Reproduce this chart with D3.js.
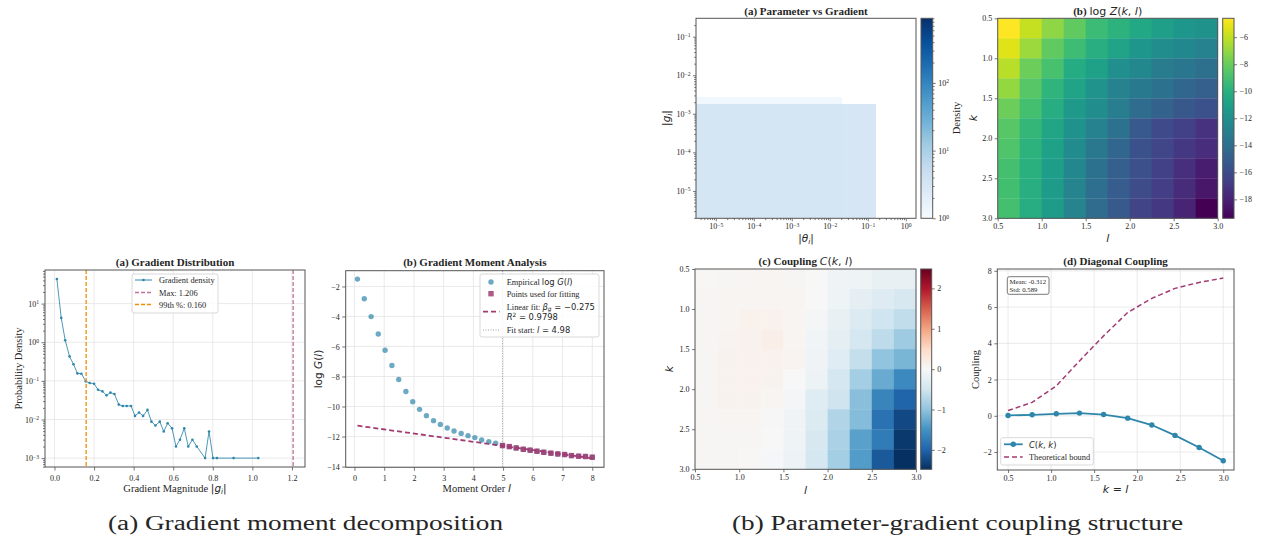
<!DOCTYPE html>
<html>
<head>
<meta charset="utf-8">
<script src="https://cdn.jsdelivr.net/npm/d3@7/dist/d3.min.js"></script>
<style>
body { margin: 0; background: #fff; }
svg { display: block; }
</style>
</head>
<body>
<svg width="1262" height="544"></svg>
<script>
// ---- (a) gradient distribution ----
var gradMag = [0.012, 0.034, 0.054, 0.076, 0.096, 0.116, 0.136, 0.158, 0.178, 0.2, 0.22, 0.242, 0.263, 0.283,
    0.303, 0.325, 0.345, 0.365, 0.387, 0.407, 0.427, 0.448, 0.47, 0.49, 0.51, 0.532, 0.552, 0.572, 0.594,
    0.614, 0.634, 0.656, 0.676, 0.697, 0.719, 0.761, 0.781, 0.801, 0.821, 0.905, 1.03];
var gradDensity = [43.4, 4.27, 1.13, 0.43, 0.27, 0.156, 0.153, 0.097, 0.088, 0.0845, 0.059, 0.0535, 0.0422,
    0.0495, 0.0457, 0.0243, 0.0224, 0.0224, 0.0224, 0.0124, 0.0151, 0.0124, 0.0177, 0.0088, 0.007, 0.0088,
    0.0049, 0.008, 0.0059, 0.002, 0.003, 0.0059, 0.002, 0.003, 0.002, 0.001, 0.0049, 0.001, 0.001, 0.001, 0.001];
var gradMax = 1.206;
var grad99 = 0.160;

// ---- (b) gradient moments ----
var momentOrder = [0.10, 0.33, 0.56, 0.80, 1.03, 1.26, 1.49, 1.73, 1.96, 2.19, 2.42, 2.66, 2.89, 3.12, 3.35,
    3.59, 3.82, 4.05, 4.28, 4.52, 4.75, 4.98, 5.21, 5.44, 5.68, 5.91, 6.14, 6.37, 6.61, 6.84, 7.07, 7.30,
    7.54, 7.77, 8.00];
var logMoment = [-1.51, -2.82, -4.01, -5.17, -6.25, -7.27, -8.20, -9.00, -9.68, -10.19, -10.61, -10.94,
    -11.19, -11.43, -11.63, -11.79, -11.94, -12.07, -12.23, -12.34, -12.45, -12.60, -12.67, -12.76, -12.85,
    -12.91, -12.98, -13.05, -13.11, -13.16, -13.20, -13.27, -13.31, -13.33, -13.38];
var fitStart = 4.98;
var fitSlope = -0.275;
var fitIntercept = -11.25;
var fitR2 = 0.9798;

// ---- parameter vs gradient (2d histogram, log10 bin edges) ----
var thetaEdges = [-5.52, -1.68, -0.79];
var gEdges = [-5.71, -2.745, -2.57];
var pgDensity = [[3.3, 3.1], [1.25, 0]];   // rows: g bins low->high, cols: theta bins

// ---- log Z(k,l), coupling C(k,l) ----
var kVals = [0.5, 0.78, 1.06, 1.33, 1.61, 1.89, 2.17, 2.44, 2.72, 3.0];
var logZ = [
    [-4.6, -5.9, -7.1, -8.2, -9.3, -9.9, -10.5, -11.1, -11.6, -11.9],
    [-5.3, -6.8, -8.2, -9.2, -10.1, -10.8, -11.6, -12.2, -12.5, -12.9],
    [-6.2, -7.9, -8.9, -10.3, -11.0, -12.1, -12.5, -13.3, -13.6, -14.0],
    [-7.0, -8.5, -9.8, -10.8, -11.8, -12.9, -13.4, -13.8, -14.5, -15.0],
    [-7.9, -9.0, -10.2, -11.4, -12.2, -13.2, -14.2, -14.8, -15.4, -15.7],
    [-8.5, -9.6, -10.7, -11.9, -12.9, -13.8, -15.3, -16.1, -16.6, -17.3],
    [-8.7, -9.9, -11.0, -12.3, -13.5, -14.5, -15.7, -16.3, -17.0, -17.5],
    [-9.0, -10.0, -11.2, -12.5, -13.9, -15.0, -15.8, -16.6, -17.4, -18.2],
    [-9.1, -10.1, -11.3, -12.7, -14.1, -15.1, -16.0, -16.7, -17.6, -18.5],
    [-9.0, -10.2, -11.3, -12.7, -14.2, -15.3, -16.4, -17.0, -17.9, -19.4]
];
var coupling = [
    [0.02, 0.04, 0.05, 0.05, 0.03, 0.0, -0.1, -0.12, -0.18, -0.2],
    [0.03, 0.055, 0.06, 0.06, 0.05, 0.0, -0.12, -0.25, -0.32, -0.4],
    [0.04, 0.06, 0.11, 0.1, 0.06, -0.05, -0.2, -0.35, -0.5, -0.62],
    [0.04, 0.07, 0.1, 0.15, 0.06, -0.08, -0.25, -0.45, -0.65, -0.9],
    [0.04, 0.09, 0.1, 0.1, 0.07, -0.1, -0.3, -0.6, -1.0, -1.15],
    [0.04, 0.09, 0.1, 0.08, 0.0, -0.13, -0.45, -0.85, -1.25, -1.6],
    [0.04, 0.08, 0.09, 0.06, -0.05, -0.3, -0.51, -1.05, -1.65, -2.0],
    [0.03, 0.05, 0.06, 0.01, -0.1, -0.35, -0.75, -1.08, -1.85, -2.25],
    [0.03, 0.04, 0.03, 0.0, -0.12, -0.4, -0.8, -1.35, -1.75, -2.4],
    [0.03, 0.03, 0.02, -0.02, -0.15, -0.45, -0.85, -1.4, -2.1, -2.48]
];
var bound = [0.29, 0.74, 1.65, 3.03, 4.41, 5.70, 6.48, 7.03, 7.36, 7.60];
var couplingMean = -0.312;
var couplingStd = 0.589;

var SERIF = '"Liberation Serif","Times New Roman",serif';
var MATH = '"DejaVu Sans",sans-serif';
var BLUE = "#2E86AB", MAG = "#A23B72", ORANGE = "#F18F01";
var INK = "#262626", SPINE = "#555";

var svg = d3.select("svg");
var defs = svg.append("defs");

function minus(v) { return v < 0 ? "\u2212" + Math.abs(v) : "" + v; }

// text made of serif / mathtext pieces
function rich(t, parts, fs) {
    var shift = 0;
    parts.forEach(function (p) {
        var kind = p[1] || "s";
        var s = t.append("tspan").text(p[0]);
        var target = 0;
        if (kind !== "s" && kind !== "b") s.attr("font-family", MATH).attr("font-weight", "normal");
        if (kind === "b") s.attr("font-weight", "bold");
        if (kind === "i" || kind === "sub") s.attr("font-style", "italic");
        if (kind === "sub") { s.attr("font-size", fs * 0.7); target = fs * 0.22; }
        if (kind === "sup") { s.attr("font-size", fs * 0.7); target = -fs * 0.4; }
        if (target !== shift) { s.attr("dy", target - shift); shift = target; }
    });
    return t;
}

function label(x, y, parts, fs, opts) {
    opts = opts || {};
    var t = svg.append("text")
        .attr("font-family", SERIF).attr("font-size", fs).attr("fill", INK)
        .attr("text-anchor", opts.anchor || "middle");
    if (opts.rotate) t.attr("transform", "translate(" + x + "," + y + ") rotate(-90)");
    else t.attr("x", x).attr("y", y);
    if (opts.bold) t.attr("font-weight", "bold");
    if (typeof parts === "string") parts = [[parts]];
    return rich(t, parts, fs);
}

function axis(orient, scale, pos, vals, fmt, size, pad) {
    var maker = orient === "bottom" ? d3.axisBottom : orient === "left" ? d3.axisLeft : d3.axisRight;
    var ax = maker(scale).tickValues(vals)
        .tickSize(size === undefined ? 3.5 : size)
        .tickPadding(pad === undefined ? 2.5 : pad)
        .tickFormat(fmt || function () { return ""; });
    var g = svg.append("g")
        .attr("transform", orient === "bottom" ? "translate(0," + pos + ")" : "translate(" + pos + ",0)")
        .call(ax);
    g.select(".domain").remove();
    g.selectAll(".tick line").attr("stroke", SPINE).attr("stroke-width", 0.8);
    g.selectAll(".tick text").attr("font-family", SERIF).attr("font-size", 8).attr("fill", INK);
    return g;
}

function powLabels(g) {
    g.selectAll(".tick text").each(function (d) {
        var e = Math.round(Math.log10(d));
        var t = d3.select(this).text(null);
        t.append("tspan").text("10");
        t.append("tspan").attr("dy", "-0.45em").attr("font-size", "5.6px").text(minus(e));
    });
}

function decades(sc) {
    var d = sc.domain(), out = [];
    for (var e = Math.ceil(Math.log10(d[0]) - 1e-9); e <= Math.floor(Math.log10(d[1]) + 1e-9); e++) {
        out.push(Math.pow(10, e));
    }
    return out;
}

function minors(sc) {
    var d = sc.domain(), out = [];
    for (var e = Math.floor(Math.log10(d[0])); e <= Math.ceil(Math.log10(d[1])); e++) {
        for (var m = 2; m <= 9; m++) {
            var v = m * Math.pow(10, e);
            if (v >= d[0] && v <= d[1]) out.push(v);
        }
    }
    return out;
}

function frame(b) {
    svg.append("rect").attr("x", b.l).attr("y", b.t)
        .attr("width", b.r - b.l).attr("height", b.b - b.t)
        .attr("fill", "none").attr("stroke", SPINE).attr("stroke-width", 1);
}

function grid(b, xs, ys, xv, yv) {
    var g = svg.append("g").attr("stroke", "#e4e4e4").attr("stroke-width", 0.8);
    xv.forEach(function (v) {
        g.append("line").attr("x1", xs(v)).attr("x2", xs(v)).attr("y1", b.t).attr("y2", b.b);
    });
    yv.forEach(function (v) {
        g.append("line").attr("y1", ys(v)).attr("y2", ys(v)).attr("x1", b.l).attr("x2", b.r);
    });
}

function ramp(cols) {
    return d3.scaleLinear()
        .domain(cols.map(function (c, i) { return i / (cols.length - 1); }))
        .range(cols).interpolate(d3.interpolateRgb).clamp(true);
}
var rdbu = ramp(["#053061", "#2166ac", "#4393c3", "#92c5de", "#d1e5f0", "#f7f7f7",
    "#fddbc7", "#f4a582", "#d6604d", "#b2182b", "#67001f"]);
var blues = ramp(["#f7fbff", "#deebf7", "#c6dbef", "#9ecae1", "#6baed6", "#4292c6",
    "#2171b5", "#08519c", "#08306b"]);
var viridis = d3.interpolateViridis;

function colorbar(x0, x1, y0, y1, interp, id) {
    var grad = defs.append("linearGradient").attr("id", id)
        .attr("x1", 0).attr("y1", 1).attr("x2", 0).attr("y2", 0);
    d3.range(0, 1.0001, 0.02).forEach(function (t) {
        grad.append("stop").attr("offset", t).attr("stop-color", interp(t));
    });
    svg.append("rect").attr("x", x0).attr("y", y0).attr("width", x1 - x0).attr("height", y1 - y0)
        .attr("fill", "url(#" + id + ")");
    frame({ l: x0, r: x1, t: y0, b: y1 });
}

function legendBox(x, y, w, h) {
    svg.append("rect").attr("x", x).attr("y", y).attr("width", w).attr("height", h).attr("rx", 2)
        .attr("fill", "#fff").attr("fill-opacity", 0.85).attr("stroke", "#cfcfcf").attr("stroke-width", 0.8);
}

// ================= (a) Gradient Distribution =================
var A = { l: 45, r: 305, t: 270, b: 467 };
var xA = d3.scaleLinear().domain([-0.048, 1.266]).range([A.l, A.r]);
var yA = d3.scaleLog().domain([Math.pow(10, -3.23), Math.pow(10, 1.87)]).range([A.b, A.t]);
var xTicksA = [0, 0.2, 0.4, 0.6, 0.8, 1.0, 1.2];
grid(A, xA, yA, xTicksA, decades(yA));

var gradPts = d3.zip(gradMag, gradDensity);
svg.append("path").datum(gradPts)
    .attr("d", d3.line().x(function (d) { return xA(d[0]); }).y(function (d) { return yA(d[1]); }))
    .attr("fill", "none").attr("stroke", BLUE).attr("stroke-width", 1).attr("opacity", 0.85);
svg.append("g").selectAll("circle").data(gradPts).join("circle")
    .attr("cx", function (d) { return xA(d[0]); })
    .attr("cy", function (d) { return yA(d[1]); })
    .attr("r", 1.3).attr("fill", BLUE);

svg.append("line").attr("x1", xA(gradMax)).attr("x2", xA(gradMax)).attr("y1", A.t).attr("y2", A.b)
    .attr("stroke", MAG).attr("stroke-width", 1.3).attr("stroke-dasharray", "4,2").attr("opacity", 0.7);
svg.append("line").attr("x1", xA(grad99)).attr("x2", xA(grad99)).attr("y1", A.t).attr("y2", A.b)
    .attr("stroke", ORANGE).attr("stroke-width", 1.3).attr("stroke-dasharray", "4,2");

frame(A);
axis("bottom", xA, A.b, xTicksA, d3.format(".1f"), 3.5, 4.5);
powLabels(axis("left", yA, A.l, decades(yA)));
axis("left", yA, A.l, minors(yA), null, 2);
label(175, 266, "(a) Gradient Distribution", 11, { bold: true });
label(175, 492, [["Gradient Magnitude "], ["|", "m"], ["g", "i"], ["i", "sub"], ["|", "m"]], 10.5);
label(22, 368.5, "Probability Density", 10.5, { rotate: true });

legendBox(132, 274, 86, 39);
svg.append("line").attr("x1", 135).attr("x2", 152).attr("y1", 280).attr("y2", 280)
    .attr("stroke", BLUE).attr("stroke-width", 1);
svg.append("circle").attr("cx", 143.5).attr("cy", 280).attr("r", 1.3).attr("fill", BLUE);
svg.append("line").attr("x1", 135).attr("x2", 152).attr("y1", 292.5).attr("y2", 292.5)
    .attr("stroke", MAG).attr("stroke-width", 1.3).attr("stroke-dasharray", "4,2").attr("opacity", 0.7);
svg.append("line").attr("x1", 135).attr("x2", 152).attr("y1", 304.5).attr("y2", 304.5)
    .attr("stroke", ORANGE).attr("stroke-width", 1.3).attr("stroke-dasharray", "4,2");
label(159, 283, "Gradient density", 8.4, { anchor: "start" });
label(159, 295.5, "Max: " + gradMax.toFixed(3), 8.4, { anchor: "start" });
label(159, 307.5, "99th %: " + grad99.toFixed(3), 8.4, { anchor: "start" });

// ================= (b) Gradient Moment Analysis =================
var B = { l: 345.7, r: 604, t: 270.7, b: 467.3 };
var xB = d3.scaleLinear().domain([-0.295, 8.395]).range([B.l, B.r]);
var yB = d3.scaleLinear().domain([-14.05, -0.95]).range([B.b, B.t]);
var xTicksB = d3.range(0, 9);
var yTicksB = [-14, -12, -10, -8, -6, -4, -2];
grid(B, xB, yB, xTicksB, yTicksB);

svg.append("line").attr("x1", xB(fitStart)).attr("x2", xB(fitStart)).attr("y1", B.t).attr("y2", B.b)
    .attr("stroke", "#888").attr("stroke-width", 0.8).attr("stroke-dasharray", "1,1.5");

var momPts = d3.zip(momentOrder, logMoment);
svg.append("g").selectAll("circle").data(momPts).join("circle")
    .attr("cx", function (d) { return xB(d[0]); })
    .attr("cy", function (d) { return yB(d[1]); })
    .attr("r", 2.7).attr("fill", BLUE).attr("opacity", 0.7);
svg.append("g").selectAll("rect").data(momPts.filter(function (d) { return d[0] >= fitStart; })).join("rect")
    .attr("x", function (d) { return xB(d[0]) - 2.7; })
    .attr("y", function (d) { return yB(d[1]) - 2.7; })
    .attr("width", 5.4).attr("height", 5.4).attr("fill", MAG).attr("opacity", 0.85);
var fitX = d3.extent(momentOrder);
svg.append("line")
    .attr("x1", xB(fitX[0])).attr("y1", yB(fitIntercept + fitSlope * fitX[0]))
    .attr("x2", xB(fitX[1])).attr("y2", yB(fitIntercept + fitSlope * fitX[1]))
    .attr("stroke", MAG).attr("stroke-width", 1.8).attr("stroke-dasharray", "5,3");

frame(B);
axis("bottom", xB, B.b, xTicksB, d3.format("d"), 3.5, 4.5);
axis("left", yB, B.l, yTicksB, minus);
label(474.8, 266, "(b) Gradient Moment Analysis", 11, { bold: true });
label(476.7, 492, [["Moment Order "], ["l", "i"]], 10.5);
label(322, 369, [["log ", "m"], ["G", "i"], ["(", "m"], ["l", "i"], [")", "m"]], 10.5, { rotate: true });

legendBox(480, 274, 119, 63);
svg.append("circle").attr("cx", 491).attr("cy", 282).attr("r", 2.7).attr("fill", BLUE).attr("opacity", 0.7);
svg.append("rect").attr("x", 488.3).attr("y", 291).attr("width", 5.4).attr("height", 5.4)
    .attr("fill", MAG).attr("opacity", 0.85);
svg.append("line").attr("x1", 483).attr("x2", 499.5).attr("y1", 311.7).attr("y2", 311.7)
    .attr("stroke", MAG).attr("stroke-width", 1.8).attr("stroke-dasharray", "5,3");
svg.append("line").attr("x1", 483).attr("x2", 499.5).attr("y1", 330).attr("y2", 330)
    .attr("stroke", "#888").attr("stroke-width", 0.8).attr("stroke-dasharray", "1,1.5");
label(506.7, 285, [["Empirical "], ["log ", "m"], ["G", "i"], ["(", "m"], ["l", "i"], [")", "m"]], 8.4, { anchor: "start" });
label(506.7, 296.5, "Points used for fitting", 8.4, { anchor: "start" });
label(506.7, 309.5, [["Linear fit: "], ["\u03b2", "i"], ["g", "sub"], [" = \u2212" + Math.abs(fitSlope).toFixed(3), "m"]], 8.4, { anchor: "start" });
label(506.7, 320, [["R", "i"], ["2", "sup"], [" = " + fitR2.toFixed(4), "m"]], 8.4, { anchor: "start" });
label(506.7, 333, [["Fit start: "], ["l", "i"], [" = " + fitStart.toFixed(2), "m"]], 8.4, { anchor: "start" });

// ================= (a) Parameter vs Gradient =================
var P = { l: 696, r: 916, t: 18.3, b: 218.3 };
var xP = d3.scaleLog().domain([Math.pow(10, -5.52), Math.pow(10, 0.27)]).range([P.l, P.r]);
var yP = d3.scaleLog().domain([Math.pow(10, -5.71), Math.pow(10, -0.523)]).range([P.b, P.t]);
var dens = d3.scaleLog().domain([1, 900]).range([0, 1]);
var pgCells = [];
pgDensity.forEach(function (row, i) {
    row.forEach(function (v, j) {
        if (v > 0) pgCells.push({ x0: thetaEdges[j], x1: thetaEdges[j + 1], y0: gEdges[i], y1: gEdges[i + 1], v: v });
    });
});
svg.append("g").selectAll("rect").data(pgCells).join("rect")
    .attr("x", function (d) { return xP(Math.pow(10, d.x0)); })
    .attr("width", function (d) { return xP(Math.pow(10, d.x1)) - xP(Math.pow(10, d.x0)); })
    .attr("y", function (d) { return yP(Math.pow(10, d.y1)); })
    .attr("height", function (d) { return yP(Math.pow(10, d.y0)) - yP(Math.pow(10, d.y1)); })
    .attr("fill", function (d) { return blues(dens(d.v)); })
    .attr("shape-rendering", "crispEdges");
frame(P);
powLabels(axis("bottom", xP, P.b, decades(xP), null, 3, 2.5));
axis("bottom", xP, P.b, minors(xP), null, 1.8);
powLabels(axis("left", yP, P.l, decades(yP), null, 3, 2.5));
axis("left", yP, P.l, minors(yP), null, 1.8);
label(806, 14.5, "(a) Parameter vs Gradient", 11, { bold: true });
label(670, 118, [["|", "m"], ["g", "i"], ["i", "sub"], ["|", "m"]], 10.5, { rotate: true });
label(806, 242, [["|", "m"], ["\u03b8", "i"], ["i", "sub"], ["|", "m"]], 10.5);

var cbP = { l: 921, r: 932.7, t: 18.3, b: 218.3 };
colorbar(cbP.l, cbP.r, cbP.t, cbP.b, blues, "cbBlues");
var yCbP = d3.scaleLog().domain(dens.domain()).range([cbP.b, cbP.t]);
powLabels(axis("right", yCbP, cbP.r, decades(yCbP), null, 3, 2.5));
axis("right", yCbP, cbP.r, minors(yCbP), null, 1.8);
label(960, 118, "Density", 10.5, { rotate: true });

// ================= (b) log Z(k,l) =================
var Z = { l: 997.7, r: 1217.7, t: 18.3, b: 218.3 };
var xZ = d3.scaleLinear().domain([0.5, 3]).range([Z.l, Z.r]);
var yZ = d3.scaleLinear().domain([0.5, 3]).range([Z.t, Z.b]);
var cellX = d3.scaleBand().domain(d3.range(kVals.length)).range([Z.l, Z.r]);
var cellY = d3.scaleBand().domain(d3.range(kVals.length)).range([Z.t, Z.b]);
var zExt = d3.extent(d3.merge(logZ));
var zNorm = d3.scaleLinear().domain(zExt).range([0, 1]);
var zCells = [];
logZ.forEach(function (row, i) { row.forEach(function (v, j) { zCells.push({ i: i, j: j, v: v }); }); });
svg.append("g").selectAll("rect").data(zCells).join("rect")
    .attr("x", function (d) { return cellX(d.j); }).attr("y", function (d) { return cellY(d.i); })
    .attr("width", cellX.bandwidth() + 0.3).attr("height", cellY.bandwidth() + 0.3)
    .attr("fill", function (d) { return viridis(zNorm(d.v)); });
frame(Z);
var hmTicks = [0.5, 1.0, 1.5, 2.0, 2.5, 3.0];
axis("bottom", xZ, Z.b, hmTicks, d3.format(".1f"), 3, 2);
axis("left", yZ, Z.l, hmTicks, d3.format(".1f"), 3, 2.5);
label(1107.7, 14.5, [["(b) ", "b"], ["log ", "m"], ["Z", "i"], ["(", "m"], ["k", "i"], [", ", "m"], ["l", "i"], [")", "m"]], 11, { bold: true });
label(977, 118, [["k", "i"]], 11, { rotate: true });
label(1107.7, 242, [["l", "i"]], 11);

var cbZ = { l: 1222.7, r: 1234, t: 18.3, b: 218.3 };
colorbar(cbZ.l, cbZ.r, cbZ.t, cbZ.b, viridis, "cbViridis");
var yCbZ = d3.scaleLinear().domain(zExt).range([cbZ.b, cbZ.t]);
axis("right", yCbZ, cbZ.r, [-18, -16, -14, -12, -10, -8, -6], minus, 3, 2.5);

// ================= (c) Coupling C(k,l) =================
var C = { l: 695, r: 916, t: 269, b: 469.3 };
var xC = d3.scaleLinear().domain([0.5, 3]).range([C.l, C.r]);
var yC = d3.scaleLinear().domain([0.5, 3]).range([C.t, C.b]);
var cX = d3.scaleBand().domain(d3.range(kVals.length)).range([C.l, C.r]);
var cY = d3.scaleBand().domain(d3.range(kVals.length)).range([C.t, C.b]);
var cMax = d3.max(d3.merge(coupling), function (v) { return Math.abs(v); });
var cNorm = d3.scaleLinear().domain([-cMax, cMax]).range([0, 1]);
var cCells = [];
coupling.forEach(function (row, i) { row.forEach(function (v, j) { cCells.push({ i: i, j: j, v: v }); }); });
svg.append("g").selectAll("rect").data(cCells).join("rect")
    .attr("x", function (d) { return cX(d.j); }).attr("y", function (d) { return cY(d.i); })
    .attr("width", cX.bandwidth() + 0.3).attr("height", cY.bandwidth() + 0.3)
    .attr("fill", function (d) { return rdbu(cNorm(d.v)); });
frame(C);
axis("bottom", xC, C.b, hmTicks, d3.format(".1f"), 3, 2);
axis("left", yC, C.l, hmTicks, d3.format(".1f"), 3, 2.5);
label(805.5, 265, [["(c) Coupling ", "b"], ["C", "i"], ["(", "m"], ["k", "i"], [", ", "m"], ["l", "i"], [")", "m"]], 11, { bold: true });
label(673, 369, [["k", "i"]], 11, { rotate: true });
label(805.5, 494, [["l", "i"]], 11);

var cbC = { l: 920.7, r: 931.7, t: 269, b: 469.3 };
colorbar(cbC.l, cbC.r, cbC.t, cbC.b, rdbu, "cbRdBu");
var yCbC = d3.scaleLinear().domain([-cMax, cMax]).range([cbC.b, cbC.t]);
axis("right", yCbC, cbC.r, [-2, -1, 0, 1, 2], minus, 3, 2.5);

// ================= (d) Diagonal Coupling =================
var D = { l: 997.3, r: 1234, t: 269, b: 470 };
var xD = d3.scaleLinear().domain([0.375, 3.125]).range([D.l, D.r]);
var yD = d3.scaleLinear().domain([-2.99, 8.1]).range([D.b, D.t]);
var yTicksD = [-2, 0, 2, 4, 6, 8];
grid(D, xD, yD, hmTicks, yTicksD);
var diag = kVals.map(function (k, i) { return [k, coupling[i][i]]; });
var boundPts = d3.zip(kVals, bound);
var lineD = d3.line().x(function (d) { return xD(d[0]); }).y(function (d) { return yD(d[1]); });
svg.append("path").datum(boundPts).attr("d", lineD).attr("fill", "none")
    .attr("stroke", MAG).attr("stroke-width", 1.5).attr("stroke-dasharray", "5,3");
svg.append("path").datum(diag).attr("d", lineD).attr("fill", "none")
    .attr("stroke", BLUE).attr("stroke-width", 1.8);
svg.append("g").selectAll("circle").data(diag).join("circle")
    .attr("cx", function (d) { return xD(d[0]); }).attr("cy", function (d) { return yD(d[1]); })
    .attr("r", 2.7).attr("fill", BLUE);
frame(D);
axis("bottom", xD, D.b, hmTicks, d3.format(".1f"), 3, 2);
axis("left", yD, D.l, yTicksD, minus, 3, 2.5);
label(1115.6, 265, "(d) Diagonal Coupling", 11, { bold: true });
label(979, 369.5, "Coupling", 10.5, { rotate: true });
label(1115.6, 493, [["k", "i"], [" = ", "m"], ["l", "i"]], 11);

svg.append("rect").attr("x", 1007.3).attr("y", 276.7).attr("width", 41.7).attr("height", 17.6).attr("rx", 2)
    .attr("fill", "#fff").attr("stroke", "#555").attr("stroke-width", 0.8);
label(1009.5, 284.3, "Mean: " + couplingMean.toFixed(3), 6.8, { anchor: "start" });
label(1009.5, 291.8, "Std: " + couplingStd.toFixed(3), 6.8, { anchor: "start" });

legendBox(1000.7, 437.7, 92.6, 27.3);
svg.append("line").attr("x1", 1004).attr("x2", 1022.7).attr("y1", 444.3).attr("y2", 444.3)
    .attr("stroke", BLUE).attr("stroke-width", 1.8);
svg.append("circle").attr("cx", 1013.3).attr("cy", 444.3).attr("r", 2.7).attr("fill", BLUE);
svg.append("line").attr("x1", 1004).attr("x2", 1022.7).attr("y1", 457).attr("y2", 457)
    .attr("stroke", MAG).attr("stroke-width", 1.5).attr("stroke-dasharray", "5,3");
label(1029, 447.5, [["C", "i"], ["(", "m"], ["k", "i"], [", ", "m"], ["k", "i"], [")", "m"]], 8.4, { anchor: "start" });
label(1029, 460, "Theoretical bound", 8.4, { anchor: "start" });

// ================= captions =================
label(305.5, 530, "(a) Gradient moment decomposition", 20).attr("textLength", 395).attr("lengthAdjust", "spacingAndGlyphs");
label(957.5, 530, "(b) Parameter-gradient coupling structure", 20).attr("textLength", 451).attr("lengthAdjust", "spacingAndGlyphs");
</script>
</body>
</html>
